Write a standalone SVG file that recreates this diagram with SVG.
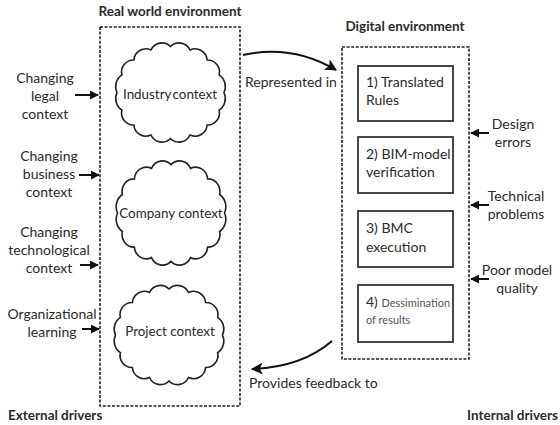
<svg xmlns="http://www.w3.org/2000/svg" width="560" height="425" viewBox="0 0 560 425">
<style>
text{font-family:Lato,"Open Sans","Liberation Sans",sans-serif;fill:#2a2a2a;font-size:14px}
.b{font-weight:bold;font-size:13.5px}
.c{text-anchor:middle}
.ct{font-size:13.4px}
.env{fill:none;stroke:#222;stroke-width:1.6;stroke-dasharray:3 1.6}
.box{fill:#fff;stroke:#333;stroke-width:1.8}
.cloud{fill:#fff;stroke:#222;stroke-width:1.6}
.arr{fill:none;stroke:#111;stroke-width:2}
.sm{font-size:11px;fill:#555}
</style>
<defs>
<marker id="ah" viewBox="0 0 10 10" refX="9" refY="5" markerWidth="4.5" markerHeight="4.5" orient="auto" markerUnits="strokeWidth">
<path d="M0,0 L10,5 L0,10 Z" fill="#111"/>
</marker>
<marker id="ahc" viewBox="0 0 10 10" refX="9" refY="5" markerWidth="6" markerHeight="6" orient="auto" markerUnits="strokeWidth">
<path d="M0,0 L10,5 L0,10 L2.5,5 Z" fill="#111"/>
</marker>
<path id="cloudShape" class="cloud" d="M0,-46 A12,12 0 0 1 19.5,-42.5 A12,12 0 0 1 36.6,-32.5 A12,12 0 0 1 48.6,-17.6 A14,14 0 0 1 53.5,0 A14,14 0 0 1 48.6,17.6 A12,12 0 0 1 36.6,32.5 A12,12 0 0 1 19.5,42.5 A12,12 0 0 1 0,46 A12,12 0 0 1 -19.5,42.5 A12,12 0 0 1 -36.6,32.5 A12,12 0 0 1 -48.6,17.6 A14,14 0 0 1 -53.5,0 A14,14 0 0 1 -48.6,-17.6 A12,12 0 0 1 -36.6,-32.5 A12,12 0 0 1 -19.5,-42.5 A12,12 0 0 1 0,-46 Z"/>
</defs>
<rect width="560" height="425" fill="#fff"/>

<g id="real-world">
<rect class="env" x="100" y="27" width="140" height="379"/>
<text class="b c" x="170" y="16">Real world environment</text>
</g>
<g id="digital">
<rect class="env" x="342" y="47" width="127" height="312"/>
<text class="b c" x="405" y="31">Digital environment</text>
</g>

<g id="industry">
<use href="#cloudShape" transform="translate(170.5,92.5)"/>
<text class="c ct" x="170" y="99" word-spacing="-2">Industry context</text>
</g>
<g id="company">
<use href="#cloudShape" transform="translate(171,213) scale(1.0,1.05)"/>
<text class="c ct" x="171" y="218">Company context</text>
</g>
<g id="project">
<use href="#cloudShape" transform="translate(169,335)"/>
<text class="c ct" x="170" y="336">Project context</text>
</g>

<g id="step1">
<rect class="box" x="358" y="66" width="95" height="55"/>
<text x="366" y="87">1) Translated</text>
<text x="366" y="105">Rules</text>
</g>
<g id="step2">
<rect class="box" x="358" y="137" width="95" height="56"/>
<text x="366" y="159">2) BIM-model</text>
<text x="366" y="177">verification</text>
</g>
<g id="step3">
<rect class="box" x="358" y="211" width="95" height="56"/>
<text x="366" y="233">3) BMC</text>
<text x="366" y="252">execution</text>
</g>
<g id="step4">
<rect class="box" x="358" y="285" width="95" height="57"/>
<text x="366" y="307">4) <tspan class="sm">Dessimination</tspan></text>
<text class="sm" x="366" y="324">of results</text>
</g>

<g id="ext-legal">
<text class="c" x="45" y="83">Changing</text>
<text class="c" x="45" y="101">legal</text>
<text class="c" x="45" y="119">context</text>
</g>
<g id="ext-business">
<text class="c" x="49" y="161">Changing</text>
<text class="c" x="49" y="179">business</text>
<text class="c" x="49" y="197">context</text>
</g>
<g id="ext-tech">
<text class="c" x="49" y="237">Changing</text>
<text class="c" x="49" y="255">technological</text>
<text class="c" x="49" y="273">context</text>
</g>
<g id="ext-org">
<text class="c" x="52" y="319">Organizational</text>
<text class="c" x="52" y="337">learning</text>
</g>

<g id="int-design">
<text class="c" x="513" y="129">Design</text>
<text class="c" x="513" y="147">errors</text>
</g>
<g id="int-tech">
<text class="c" x="516" y="201">Technical</text>
<text class="c" x="516" y="219">problems</text>
</g>
<g id="int-quality">
<text class="c" x="517" y="275">Poor model</text>
<text class="c" x="517" y="293">quality</text>
</g>

<g id="footer">
<text class="b" x="8" y="420">External drivers</text>
<text class="b" x="558" y="420" text-anchor="end">Internal drivers</text>
</g>

<g id="connectors">
<line class="arr" x1="75" y1="95" x2="98" y2="95" marker-end="url(#ah)"/>
<line class="arr" x1="79" y1="175" x2="99" y2="175" marker-end="url(#ah)"/>
<line class="arr" x1="80" y1="265" x2="98" y2="265" marker-end="url(#ah)"/>
<line class="arr" x1="82" y1="329" x2="99" y2="329" marker-end="url(#ah)"/>
<line class="arr" x1="489" y1="133" x2="471" y2="133" marker-end="url(#ah)"/>
<line class="arr" x1="489" y1="205" x2="471" y2="205" marker-end="url(#ah)"/>
<line class="arr" x1="489" y1="279" x2="471" y2="279" marker-end="url(#ah)"/>
<path class="arr" d="M243,55 Q292,44 336,70" marker-end="url(#ahc)"/>
<text x="245" y="87">Represented in</text>
<path class="arr" d="M332,341 Q302,367 252,369" marker-end="url(#ahc)"/>
<text x="249" y="388">Provides feedback to</text>
</g>
</svg>
